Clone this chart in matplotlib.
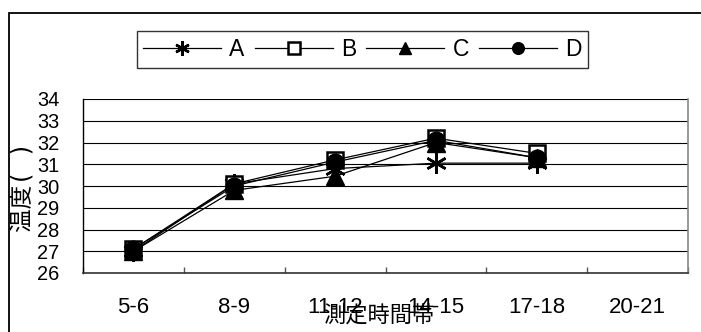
import matplotlib
matplotlib.use("Agg")
import matplotlib.pyplot as plt
from matplotlib.patches import Rectangle

categories = ["5-6", "8-9", "11-12", "14-15", "17-18", "20-21"]
series_names = ["A", "B", "C", "D"]
A = [27.0, 30.1, 30.8, 31.05, 31.05]
B = [27.1, 30.1, 31.2, 32.2, 31.5]
C = [27.0, 29.8, 30.45, 32.0, 31.3]
D = [27.1, 30.0, 31.1, 32.1, 31.3]
y_ticks = [26, 27, 28, 29, 30, 31, 32, 33, 34]
xlabel = "測定時間帯"
ylabel = "温度( )"

LATIN = ["Liberation Sans", "DejaVu Sans"]
CJK = ["Noto Sans CJK JP", "DejaVu Sans"]
YLAB = ["DejaVu Sans Mono", "Noto Sans CJK JP"]
plt.rcParams['font.family'] = LATIN

fig = plt.figure(figsize=(7.01, 3.32), dpi=100)
W, H = 701, 332
x0, x1, ytop, ybot = 83, 688, 99, 273
ax = fig.add_axes([x0 / W, (H - ybot) / H, (x1 - x0) / W, (ybot - ytop) / H])

# outer frame
fig.patches.append(Rectangle((9 / W, -0.2), 2.0, (H - 13) / H + 0.2,
                             transform=fig.transFigure, fill=False,
                             edgecolor="black", linewidth=1.3, zorder=0))

styles = [
    dict(marker=(6, 2, 0), ms=15, mfc="black", mec="black", mew=1.8),
    dict(marker="s", ms=12, mfc="white", mec="black", mew=1.8),
    dict(marker="^", ms=13, mfc="black", mec="black", mew=1.0),
    dict(marker="o", ms=12, mfc="black", mec="black", mew=1.0),
]
xs = list(range(len(A)))
for name, vals, st in zip(series_names, [A, B, C, D], styles):
    ax.plot(xs, vals, color="black", linewidth=0.9, label=name, zorder=3, **st)

ax.set_xlim(-0.5, len(categories) - 0.5)
ax.set_ylim(y_ticks[0], y_ticks[-1])
ax.set_yticks(y_ticks)
ax.set_yticklabels([str(v) for v in y_ticks])
ax.set_xticks(range(len(categories)))
ax.set_xticklabels(categories)
ax.set_xticks([i - 0.5 for i in range(len(categories) + 1)], minor=True)
ax.tick_params(axis="x", which="major", length=0, pad=17, labelsize=16)
ax.tick_params(axis="x", which="minor", direction="in", length=4, width=1, color="#555555")
ax.tick_params(axis="y", length=0, pad=17, labelsize=14.4)
ax.grid(axis="y", color="black", linewidth=0.8)
ax.set_axisbelow(True)
ax.spines["top"].set_visible(False)
ax.spines["left"].set_color("black")
ax.spines["bottom"].set_color("#333333")
ax.spines["right"].set_color("#888888")
ax.spines["left"].set_linewidth(1.0)
ax.spines["bottom"].set_linewidth(1.2)
ax.spines["right"].set_linewidth(1.2)

ax.set_xlabel(xlabel, fontsize=16, family=CJK)
ax.xaxis.set_label_coords((379 - x0) / (x1 - x0), (ybot - 315) / (ybot - ytop))
ax.xaxis.label.set_va("center")
ax.set_ylabel(ylabel, fontsize=17, family=YLAB)
ax.yaxis.set_label_coords((23 - x0) / (x1 - x0), (ybot - 187.5) / (ybot - ytop))
ax.yaxis.label.set_va("center")

leg = fig.legend(loc="center", bbox_to_anchor=(362.5 / W, (H - 49.5) / H),
                 ncol=4, fontsize=16.5, frameon=True, fancybox=False,
                 edgecolor="black", handlelength=3.4, handletextpad=0.35,
                 columnspacing=0.45, borderpad=0.3, markerscale=0.7)
leg.get_frame().set_linewidth(1.0)

fig.savefig("out.png", dpi=100)
